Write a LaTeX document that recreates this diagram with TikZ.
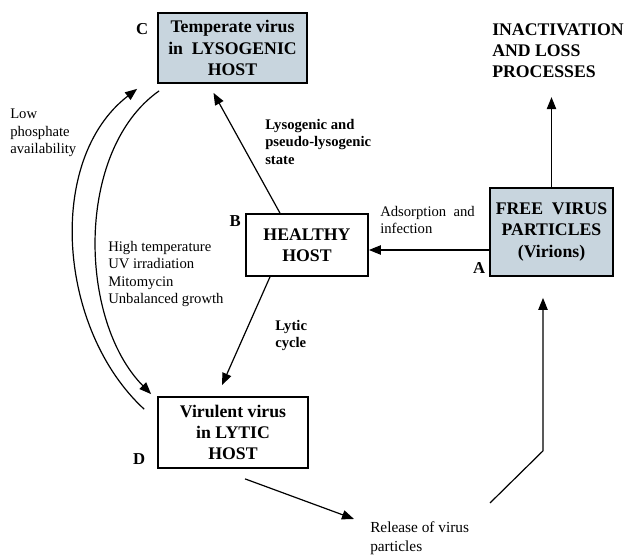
\documentclass[tikz,border=0pt]{standalone}
\usepackage{fontspec}
\setmainfont{Liberation Serif}
\usepackage{tikz}
\usetikzlibrary{arrows.meta, positioning, calc}
\definecolor{grisbleu}{RGB}{200,213,222}

\begin{document}
\begin{tikzpicture}[x=0.75pt, y=-0.75pt,
		boite/.style={draw, line width=1.3pt, align=center, inner sep=2pt, font=\bfseries\fontsize{13.3}{15.8}\selectfont},
		texte/.style={anchor=north west, inner sep=0pt, align=left, font=\fontsize{11}{13}\selectfont},
		lettre/.style={inner sep=0pt, font=\bfseries\fontsize{12.5}{14}\selectfont},
		fleche/.style={-{Triangle[length=9pt,width=7pt]}, line width=0.9pt}]
				\useasboundingbox (0,0) rectangle (625,555);
				% boites
				\node[boite, fill=grisbleu, minimum width=111.75pt, minimum height=52.5pt] (lyso) at (232.5,48) {Temperate virus\\in~ LYSOGENIC\\HOST};
				\node[boite, minimum width=91.5pt, minimum height=46.5pt] (healthy) at (307,245) {HEALTHY\\HOST};
				\node[boite, fill=grisbleu, minimum width=92.25pt, minimum height=66pt] (free) at (551.5,232) {FREE~ VIRUS\\PARTICLES\\(Virions)};
				\node[boite, minimum width=112.5pt, minimum height=53.25pt] (lytic) at (233,432.5) {Virulent virus\\in LYTIC\\HOST};
				% lettres
				\node[lettre] (lC) at ($(lyso.north west)+(-15,17)$) {C};
				\node[lettre] (lB) at ($(healthy.north west)+(-10,8)$) {B};
				\node[lettre] (lA) at ($(free.south west)+(-10,-9)$) {A};
				\node[lettre] (lD) at ($(lytic.south west)+(-18,-10)$) {D};
				% textes
				\node[texte, font=\bfseries\fontsize{13.3}{15.8}\selectfont] (loss) at (492,23) {INACTIVATION\\AND LOSS\\PROCESSES};
				\node[texte] (phosphate) at (10,109) {Low\\phosphate\\availability};
				\node[texte, font=\bfseries\fontsize{11}{13}\selectfont] (lysostate) at (265,119) {Lysogenic and\\pseudo-lysogenic\\state};
				\node[texte] (adsorption) at (380,206) {Adsorption~ and\\infection};
				\node[texte] (induction) at (108,241) {High temperature\\UV irradiation\\Mitomycin\\Unbalanced growth};
				\node[texte, font=\bfseries\fontsize{11}{13}\selectfont] (lyticcycle) at (275,320) {Lytic\\cycle};
				\node[texte, font=\fontsize{11.5}{14.5}\selectfont] (release) at (370,521) {Release of virus\\particles};
				% fleches
				\coordinate (inact) at ($(free.north)+(0,-90)$);
				\draw[fleche] (free.north) -- (inact);
				\draw[fleche] ([yshift=-13.5pt]free.west) -- ([yshift=-3.75pt]healthy.east);
				\draw[fleche] ($(healthy.north)+(-27,0)$) -- ($(lyso.south)+(-19,9)$);
				\draw[fleche] ($(healthy.south)+(-37,0)$) -- ($(lytic.north)+(-11,-11)$);
				\draw[fleche] ($(lytic.south)+(12,10)$) -- ($(release.north west)+(-16,-2)$);
				\draw[fleche] ($(release.north west)+(120,-18)$) -- ($(free.south)+(-8.5,174)$) -- ($(free.south)+(-8.5,21)$);
				% courbes
				\draw[fleche] ($(lytic.north west)+(-13,13)$) .. controls (58,330) and (45,160) .. ($(lyso.south west)+(-20,5)$);
				\draw[fleche] ($(lyso.south west)+(2,7)$) .. controls (75,150) and (78,320) .. ($(lytic.north west)+(-6,-2)$);
			\end{tikzpicture}
\end{document}
